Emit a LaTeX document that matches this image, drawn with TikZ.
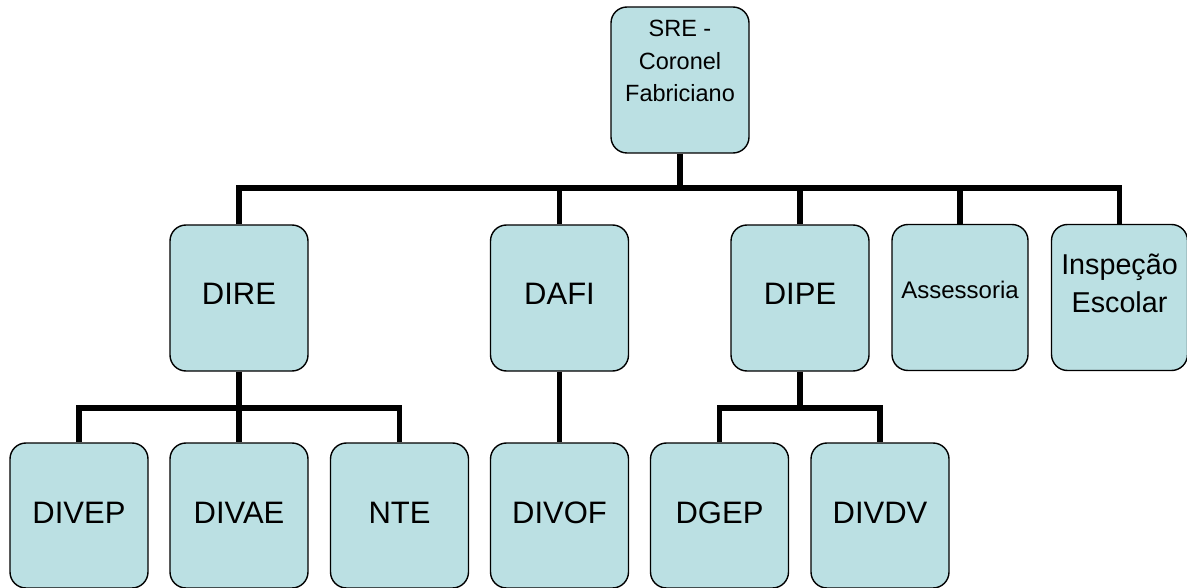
\documentclass[tikz,border=0pt]{standalone}
\usepackage{fontspec}
\setmainfont{Liberation Sans}
\definecolor{boxfill}{HTML}{BBE0E3}
\begin{document}
\begin{tikzpicture}[x=1pt,y=-1pt,
  box/.style={draw=black, line width=1.4pt, fill=boxfill, rounded corners=16pt,
    minimum width=138pt, minimum height=146pt, inner sep=0pt, align=center,
    font=\fontsize{31}{37}\selectfont, text depth=8pt},
  conn/.style={line width=5.5pt, line join=miter}]
\useasboundingbox (0,0) rectangle (1187,588);
% top
\node[box, font=\fontsize{23.5}{32.5}\selectfont, text depth=38pt] (sre) at (680,80) {SRE -\\Coronel\\Fabriciano};
% second row
\node[box] (dire) at (239,298) {DIRE};
\node[box] (dafi) at (559.5,298) {DAFI};
\node[box] (dipe) at (800,298) {DIPE};
\node[box, minimum width=136pt, font=\fontsize{24}{29}\selectfont, text depth=16pt] (asse) at (960,297.5) {Assessoria};
\node[box, minimum width=136pt, font=\fontsize{28.7}{38}\selectfont, text depth=28pt] (insp) at (1119.5,297.5) {Inspeção\\Escolar};
% third row
\node[box, minimum height=145pt, text depth=5pt] (divep) at (79,515.5) {DIVEP};
\node[box, minimum height=145pt, text depth=5pt] (divae) at (239,515.5) {DIVAE};
\node[box, minimum height=145pt, text depth=5pt] (nte) at (399.5,515.5) {NTE};
\node[box, minimum height=145pt, text depth=5pt] (divof) at (559.5,515.5) {DIVOF};
\node[box, minimum height=145pt, text depth=5pt] (dgep) at (719.5,515.5) {DGEP};
\node[box, minimum height=145pt, text depth=5pt] (divdv) at (880,515.5) {DIVDV};
% connectors
\coordinate (bus) at (680,188);
\coordinate (b1) at (239,408);
\coordinate (b2) at (800,408);
\draw[conn] (sre.south) -- (bus);
\draw[conn] (dire.north) |- (bus) -| (insp.north);
\draw[conn] (dafi.north) -- (dafi.north |- bus);
\draw[conn] (dipe.north) -- (dipe.north |- bus);
\draw[conn] (asse.north) -- (asse.north |- bus);
\draw[conn] (dire.south) -- (divae.north);
\draw[conn] (divep.north) |- (b1) -| (nte.north);
\draw[conn] (dafi.south) -- (divof.north);
\draw[conn] (dipe.south) -- (b2);
\draw[conn] (dgep.north) |- (b2) -| (divdv.north);
\end{tikzpicture}
\end{document}
